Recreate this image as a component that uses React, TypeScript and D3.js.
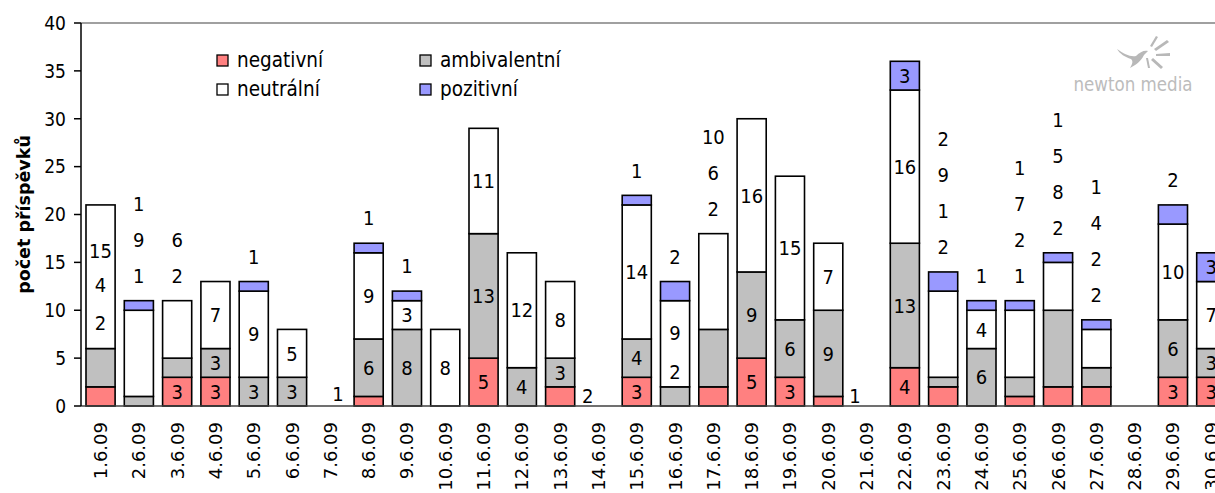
import React from "react";
import * as d3 from "d3";

const dates = ["1.6.09","2.6.09","3.6.09","4.6.09","5.6.09","6.6.09","7.6.09","8.6.09","9.6.09","10.6.09","11.6.09","12.6.09","13.6.09","14.6.09","15.6.09","16.6.09","17.6.09","18.6.09","19.6.09","20.6.09","21.6.09","22.6.09","23.6.09","24.6.09","25.6.09","26.6.09","27.6.09","28.6.09","29.6.09","30.6.09"];
const negativni =    [2,0,3,3,0,0,0,1,0,0,5,0,2,0,3,0,2,5,3,1,0,4,2,0,1,2,2,0,3,3];
const ambivalentni = [4,1,2,3,3,3,0,6,8,0,13,4,3,0,4,2,6,9,6,9,0,13,1,6,2,8,2,0,6,3];
const neutralni =    [15,9,6,7,9,5,0,9,3,8,11,12,8,0,14,9,10,16,15,7,0,16,9,4,7,5,4,0,10,7];
const pozitivni =    [0,1,0,0,1,0,0,1,1,0,0,0,0,0,1,2,0,0,0,0,0,3,2,1,1,1,1,0,2,3];
const seriesNames = ["negativní","ambivalentní","neutrální","pozitivní"];
const seriesColors = ["#FF8080","#C0C0C0","#FFFFFF","#9999FF"];
const yTicks = [0,5,10,15,20,25,30,35,40];
// index of first series whose label is stacked above the bar (4 = none)
const labelAboveFrom = [4,0,1,4,3,4,4,3,3,4,4,4,4,4,3,3,0,4,4,4,4,4,0,3,0,0,0,4,3,4];
// [date, series index, label position in data units, x shift in bands]
const labelOverrides: [string, number, number, number][] = [
  ["1.6.09",0,8.7,0],["1.6.09",1,12.7,0],["1.6.09",2,16.2,0],
  ["16.6.09",1,3.55,0],["16.6.09",2,7.6,0],
  ["8.6.09",0,1.3,-0.8],["13.6.09",0,1.05,0.72],["20.6.09",0,1.05,0.7],
];

const W = 1215, H = 493;
const FONT = "'DejaVu Sans Condensed','DejaVu Sans',sans-serif";
const FONT_WIDE = "'DejaVu Sans',sans-serif";

export default function App() {
  const series = [negativni, ambivalentni, neutralni, pozitivni];
  const x0 = 81.4, step = 38.3;
  const x = d3.scaleBand<string>().domain(dates).range([x0, x0 + step * dates.length]).paddingInner(0.24).paddingOuter(0.12);
  const y = d3.scaleLinear().domain([0, 40]).range([406, 23]);
  const table = dates.map((d, i) => ({ date: d, s0: negativni[i], s1: ambivalentni[i], s2: neutralni[i], s3: pozitivni[i] }));
  const stack = d3.stack<any>().keys(["s0","s1","s2","s3"])(table);

  const bars: JSX.Element[] = [];
  const labels: JSX.Element[] = [];
  dates.forEach((d, i) => {
    const cx = (x(d) as number) + x.bandwidth() / 2;
    const total = series.reduce((a, s) => a + s[i], 0);
    let k = 0;
    for (let s = 0; s < 4; s++) {
      const v = series[s][i];
      if (v <= 0) continue;
      const [lo, hi] = stack[s][i];
      bars.push(
        <rect key={`b${i}-${s}`} x={x(d)} y={y(hi)} width={x.bandwidth()} height={y(lo) - y(hi)}
          fill={seriesColors[s]} stroke="#000" strokeWidth={1.6} />
      );
      const ov = labelOverrides.find(o => o[0] === d && o[1] === s);
      let lx = cx, ly: number;
      if (ov) {
        ly = y(ov[2]);
        lx = cx + ov[3] * step;
      } else if (s >= labelAboveFrom[i]) {
        ly = y(total) - 25 - 36 * k;
        k++;
      } else {
        ly = y((lo + hi) / 2);
      }
      labels.push(
        <text key={`l${i}-${s}`} x={lx} y={ly} dy="0.36em" textAnchor="middle" fontSize={20} fontFamily={FONT} fill="#000">{v}</text>
      );
    }
  });

  return (
    <svg width={W} height={H} style={{ position: "absolute", left: 0, top: 0, background: "#fff" }} xmlns="http://www.w3.org/2000/svg">
      <rect x={0} y={0} width={W} height={H} fill="#fff" />
      {/* plot area border */}
      <line x1={81} y1={y(40)} x2={W} y2={y(40)} stroke="#808080" strokeWidth={1.5} />
      {bars}
      <line x1={81} y1={y(0)} x2={W} y2={y(0)} stroke="#404040" strokeWidth={1.5} />
      <line x1={81} y1={y(0)} x2={81} y2={y(40)} stroke="#000" strokeWidth={1.5} />
      {yTicks.map(t => (
        <g key={t}>
          <line x1={74} x2={81} y1={y(t)} y2={y(t)} stroke="#000" strokeWidth={1.5} />
          <text x={66} y={y(t)} dy="0.36em" textAnchor="end" fontSize={19} fontFamily={FONT}>{t}</text>
        </g>
      ))}
      <text transform={`translate(30,${(y(0) + y(40)) / 2}) rotate(-90)`} textAnchor="middle" fontSize={17.5} fontWeight="bold" fontFamily={FONT_WIDE}>počet příspěvků</text>
      {dates.map(d => (
        <text key={d} transform={`translate(${(x(d) as number) + x.bandwidth() / 2},422) rotate(-90)`} dy="0.36em" textAnchor="end" fontSize={18} fontFamily={FONT_WIDE}>{d}</text>
      ))}
      {labels}
      {/* legend */}
      {seriesNames.map((n, s) => {
        const col = s === 1 || s === 3 ? 1 : 0;
        const row = s === 2 || s === 3 ? 1 : 0;
        const lx = 217 + col * 203;
        const ly = 55 + row * 29;
        return (
          <g key={n}>
            <rect x={lx} y={ly} width={11} height={11} fill={seriesColors[s]} stroke="#000" strokeWidth={1.3} />
            <text x={lx + 20} y={ly + 11.5} fontSize={20.5} fontFamily={FONT}>{n}</text>
          </g>
        );
      })}
      {/* logo */}
      <g fill="#b8b8b8" stroke="none">
        <path d="M1117,49 C1124,54 1130,57 1136,56 C1140,52 1144,50 1148,51 L1144,55 C1141,61 1136,65 1130,68 C1133,63 1133,61 1131,59 C1125,57 1120,54 1117,49 Z" />
        <path d="M1150,46 L1156,36 L1158,37 L1152,47 Z" />
        <path d="M1154,49 L1167,40 L1169,42 L1156,51 Z" />
        <path d="M1156,54 L1170,53 L1170,56 L1156,56 Z" />
        <path d="M1153,58 L1163,67 L1161,69 L1151,60 Z" />
        <path d="M1148,58 L1150,68 L1148,68 L1146,58 Z" />
      </g>
      <text x={1133} y={91} textAnchor="middle" fontSize={19} fontFamily={FONT} fill="#bcbcbc" textLength={119} lengthAdjust="spacingAndGlyphs">newton media</text>
    </svg>
  );
}
